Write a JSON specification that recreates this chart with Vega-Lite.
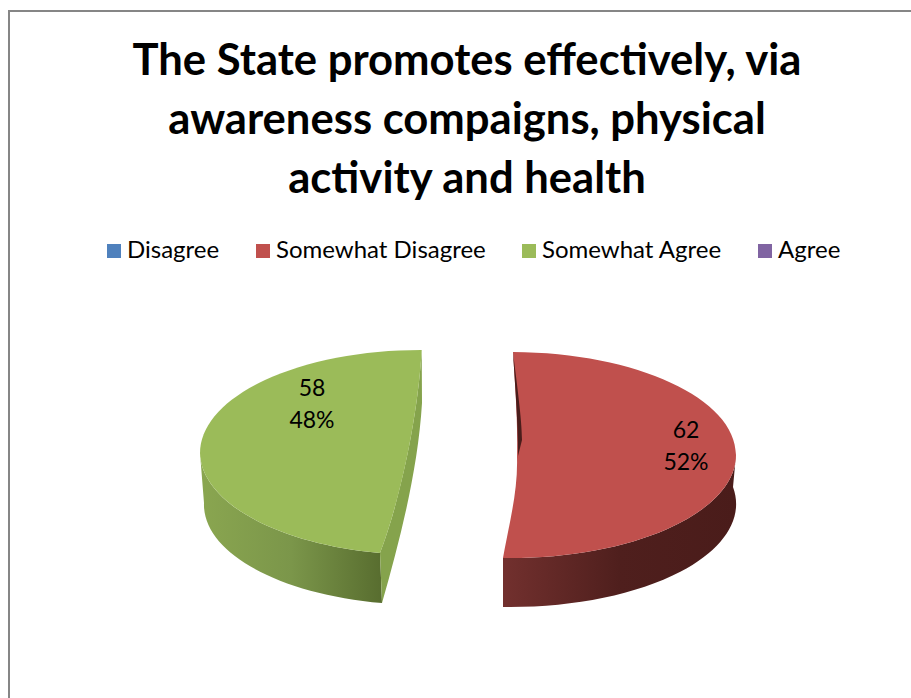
{"$schema":"https://vega.github.io/schema/vega-lite/v6.json","width":910,"height":700,"padding":{"left":9,"top":11,"right":0,"bottom":0},"autosize":"none","background":"#ffffff","view":{"stroke":"#868686","strokeWidth":2,"fill":"#ffffff"},"title":{"text":["The State promotes effectively, via","awareness compaigns, physical","activity and health"],"font":"Lato","fontWeight":"bold","fontSize":43.6,"lineHeight":59,"color":"#000000","anchor":"middle","frame":"group","dx":3,"dy":196},"data":{"values":[{"answer":"Disagree","count":0,"percent":0,"label":""},{"answer":"Somewhat Disagree","count":62,"percent":52,"label":"62\n52%"},{"answer":"Somewhat Agree","count":58,"percent":48,"label":"58\n48%"},{"answer":"Agree","count":0,"percent":0,"label":""}]},"layer":[{"transform":[{"filter":"datum.answer === 'Somewhat Agree'"}],"mark":{"type":"point","filled":true,"opacity":1,"size":4,"strokeWidth":0,"shape":"M-264,92 L-260,142 A218,100 0 0 0 -82,242 L-84,192 A221,103 0 0 1 -264,92 Z","fill":{"gradient":"linear","x1":0,"y1":0,"x2":1,"y2":0,"stops":[{"offset":0,"color":"#8aa650"},{"offset":0.5,"color":"#7b964a"},{"offset":1,"color":"#586d2f"}]}}},{"transform":[{"filter":"datum.answer === 'Somewhat Agree'"}],"mark":{"type":"point","filled":true,"opacity":1,"size":4,"strokeWidth":0,"shape":"M-42.3,-11 L-42,42 C-46,109 -64,179 -82,242 L-84,192 C-69,154 -47,69 -42.3,-11 Z","fill":"#85a34c"}},{"transform":[{"filter":"datum.answer === 'Somewhat Disagree'"}],"mark":{"type":"point","filled":true,"opacity":1,"size":4,"strokeWidth":0,"shape":"M39,197 L39,246 A226,103 0 0 0 269,126 L272,94 A226,103 0 0 1 39,197 Z","fill":{"gradient":"linear","x1":0,"y1":0,"x2":1,"y2":0,"stops":[{"offset":0,"color":"#72302e"},{"offset":0.5,"color":"#4f1f1d"},{"offset":1,"color":"#4a1c1a"}]}}},{"transform":[{"filter":"datum.answer === 'Somewhat Agree'"}],"mark":{"type":"point","filled":true,"opacity":1,"size":4,"strokeWidth":0,"shape":"M-42.3,-11 A221,103 0 0 0 -264,92 A221,103 0 0 0 -84,192 C-69,154 -47,69 -42.3,-11 Z"},"encoding":{"color":{"field":"answer","type":"nominal","scale":{"domain":["Disagree","Somewhat Disagree","Somewhat Agree","Agree"],"range":["#4f81bd","#c0504d","#9bbb59","#8064a2"]},"legend":{"title":null,"orient":"none","legendX":93,"legendY":228,"direction":"horizontal","columns":4,"gridAlign":"none","symbolType":"square","symbolSize":196,"symbolOpacity":1,"symbolStrokeWidth":0,"labelFont":"Lato","labelFontSize":24,"labelColor":"#000000","labelOffset":1,"columnPadding":31,"labelLimit":300}}}},{"transform":[{"filter":"datum.answer === 'Somewhat Disagree'"}],"mark":{"type":"point","filled":true,"opacity":1,"size":4,"strokeWidth":0,"shape":"M49,-9 A226,103 0 0 1 272,94 A226,103 0 0 1 39,197 C46,159 54,129 53,96 C54,59 51,24 49,-9 Z"},"encoding":{"color":{"field":"answer","type":"nominal","scale":{"domain":["Disagree","Somewhat Disagree","Somewhat Agree","Agree"],"range":["#4f81bd","#c0504d","#9bbb59","#8064a2"]}}}},{"transform":[{"filter":"datum.answer === 'Somewhat Disagree'"}],"mark":{"type":"point","filled":true,"opacity":1,"size":4,"strokeWidth":0,"shape":"M49,-9 C53,24 58,59 58,79 L54,95 C54,59 51,24 49,-9 Z","fill":"#4a1d1b"}},{"transform":[{"filter":"datum.answer === 'Somewhat Agree'"}],"mark":{"type":"text","font":"Lato","fontSize":23,"lineHeight":32,"lineBreak":"\n","color":"#000000","align":"center","baseline":"middle","dx":-152,"dy":28},"encoding":{"text":{"field":"label","type":"nominal"}}},{"transform":[{"filter":"datum.answer === 'Somewhat Disagree'"}],"mark":{"type":"text","font":"Lato","fontSize":23,"lineHeight":32,"lineBreak":"\n","color":"#000000","align":"center","baseline":"middle","dx":222,"dy":70},"encoding":{"text":{"field":"label","type":"nominal"}}}]}
